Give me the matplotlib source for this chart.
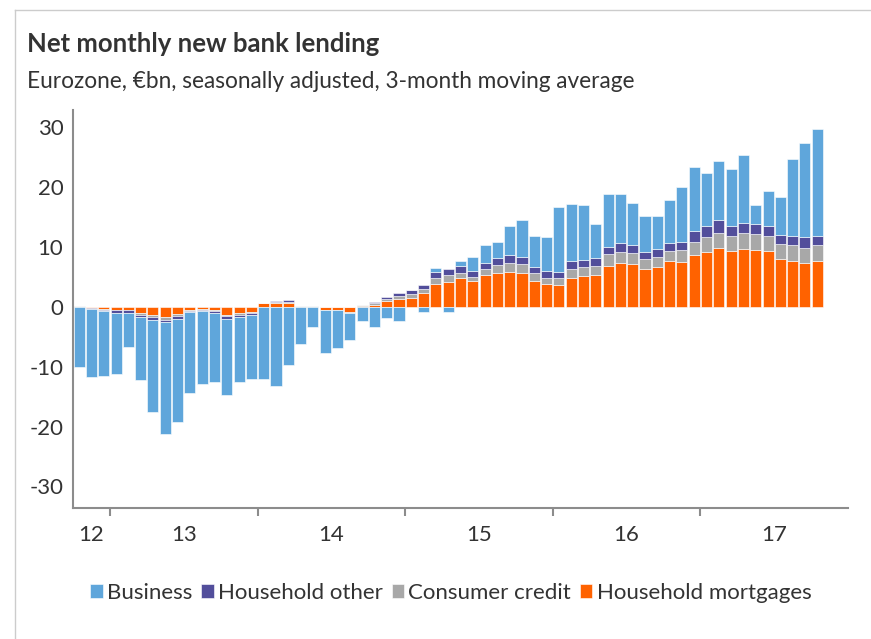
import numpy as np
import matplotlib
matplotlib.use("Agg")
import matplotlib.pyplot as plt
from matplotlib.lines import Line2D

plt.rcParams['font.family'] = ['Lato', 'DejaVu Sans']
plt.rcParams['axes.unicode_minus'] = False

# monthly, Oct 2012 .. Oct 2017 (EUR bn, 3m avg)
mortgages = [0.05, -0.25, -0.4, -0.45, -0.5, -1.0, -1.4, -1.7, -1.2, -0.6,
             -0.4, -0.5, -1.3, -1.05, -0.8, 0.6, 0.6, 0.6, 0.05, 0.05,
             -0.5, -0.5, -0.8, 0.15, 0.4, 1.0, 1.33, 1.55, 2.33, 3.9,
             4.2, 4.8, 4.3, 5.3, 5.6, 5.8, 5.7, 4.3, 3.9, 3.6,
             4.8, 5.2, 5.3, 6.9, 7.4, 7.1, 6.3, 6.7, 7.6, 7.5,
             8.7, 9.2, 9.9, 9.3, 9.7, 9.5, 9.3, 8.0, 7.7, 7.3,
             7.7]
consumer = [0.05, 0.0, -0.1, -0.1, -0.1, -0.3, -0.3, -0.45, -0.3, -0.05,
            -0.05, -0.15, -0.3, -0.25, -0.25, 0.05, 0.25, 0.3, 0.05, 0.05,
            -0.05, -0.05, -0.2, 0.1, 0.2, 0.3, 0.45, 0.55, 0.65, 1.0,
            1.1, 0.9, 0.75, 1.0, 1.45, 1.6, 1.5, 1.3, 1.0, 1.2,
            1.5, 1.5, 1.6, 1.9, 1.8, 1.95, 1.7, 1.6, 1.8, 2.0,
            2.1, 2.4, 2.45, 2.5, 2.7, 2.6, 2.6, 2.5, 2.6, 2.6,
            2.6]
hh_other = [0.1, -0.1, -0.2, -0.45, -0.35, -0.4, -0.45, -0.45, -0.55, -0.2,
            -0.2, -0.4, -0.45, -0.4, -0.35, 0.05, 0.15, 0.3, 0.05, 0.1,
            0.0, 0.0, 0.0, 0.1, 0.2, 0.3, 0.5, 0.65, 0.65, 1.0,
            1.0, 1.1, 0.95, 1.1, 1.15, 1.2, 1.2, 1.0, 1.15, 1.0,
            1.3, 1.2, 1.2, 1.2, 1.4, 1.25, 1.2, 1.3, 1.3, 1.3,
            1.9, 1.9, 2.1, 1.7, 1.7, 1.7, 1.6, 1.5, 1.5, 1.7,
            1.6]
business = [-10.1, -11.35, -10.8, -10.2, -5.75, -10.5, -15.45, -18.7, -17.15, -13.6,
            -12.15, -11.55, -12.75, -10.9, -10.6, -12.0, -13.2, -9.7, -6.2, -3.4,
            -7.2, -6.35, -4.6, -2.4, -3.4, -1.8, -2.3, 0.1, -0.85, 0.65,
            -0.8, 0.9, 2.4, 2.9, 2.6, 5.0, 6.2, 5.2, 5.55, 10.9,
            9.6, 9.2, 5.8, 8.9, 8.2, 7.1, 6.0, 5.6, 7.2, 9.3,
            10.6, 8.9, 9.85, 9.6, 11.2, 3.3, 5.8, 6.3, 12.9, 15.8,
            17.8]

year_labels = ["12", "13", "14", "15", "16", "17"]
year_starts = [-0.5, 2.5, 14.5, 26.5, 38.5, 50.5, 62.5]   # bar 0 = Oct 2012

colors = {"Business": "#5FA6DB", "Household other": "#524E9B",
          "Consumer credit": "#A8A8A8", "Household mortgages": "#FF6200"}
text_col = "#333333"

fig = plt.figure(figsize=(8.71, 6.39), dpi=100)
W, H = 871, 639
ax = fig.add_axes([73 / W, 1 - 508 / H, (848 - 73) / W, (508 - 110) / H])

x = np.arange(len(business))
pos = np.zeros(len(x))
neg = np.zeros(len(x))
handles = {}
# stack outward from zero: mortgages, consumer credit, household other, business
for name, vals in [("Household mortgages", mortgages), ("Consumer credit", consumer),
                   ("Household other", hh_other), ("Business", business)]:
    v = np.array(vals)
    bottom = np.where(v >= 0, pos, neg)
    handles[name] = ax.bar(x, v, bottom=bottom, width=0.9, color=colors[name],
                           edgecolor="white", linewidth=0.4, label=name)
    pos += np.clip(v, 0, None)
    neg += np.clip(v, None, 0)

ax.set_xlim(year_starts[0], year_starts[-1])
ax.set_ylim(-33.6, 32.9)
ax.set_yticks(range(-30, 31, 10))
ax.tick_params(axis="y", length=0, pad=7, labelsize=16, labelcolor=text_col)

# year boundaries as ticks, labels centred in between
ax.set_xticks(year_starts[1:-1])
ax.set_xticklabels([])
ax.set_xticks([(a + b) / 2 for a, b in zip(year_starts[:-1], year_starts[1:])], minor=True)
ax.set_xticklabels(year_labels, minor=True)
ax.tick_params(axis="x", which="major", length=6, width=1.5, color="#8C8C8C", direction="out")
ax.tick_params(axis="x", which="minor", length=0, pad=12, labelsize=16, labelcolor=text_col)

for s in ["top", "right"]:
    ax.spines[s].set_visible(False)
for s in ["left", "bottom"]:
    ax.spines[s].set_color("#8C8C8C")
    ax.spines[s].set_linewidth(1.5)

fig.text(27 / W, 1 - 44 / H, "Net monthly new bank lending", fontsize=18.5, fontweight="bold",
         color=text_col, va="center", ha="left")
fig.text(27 / W, 1 - 82 / H, "Eurozone, €bn, seasonally adjusted, 3-month moving average",
         fontsize=16.3, color=text_col, va="center", ha="left")

order = ["Business", "Household other", "Consumer credit", "Household mortgages"]
fig.legend([handles[k] for k in order], order, loc="center", ncol=4,
           bbox_to_anchor=(451 / W, 1 - 593 / H), frameon=False, fontsize=16,
           handlelength=0.55, handleheight=0.55, handletextpad=0.2, columnspacing=0.4,
           labelcolor=text_col)

# light frame around the graphic
fig.add_artist(Line2D([15 / W, 1], [1 - 10 / H, 1 - 10 / H], transform=fig.transFigure,
                      color="#CCCCCC", linewidth=1))
fig.add_artist(Line2D([15 / W, 15 / W], [0, 1 - 10 / H], transform=fig.transFigure,
                      color="#CCCCCC", linewidth=1))

fig.savefig("out.png", dpi=100, facecolor="white")
